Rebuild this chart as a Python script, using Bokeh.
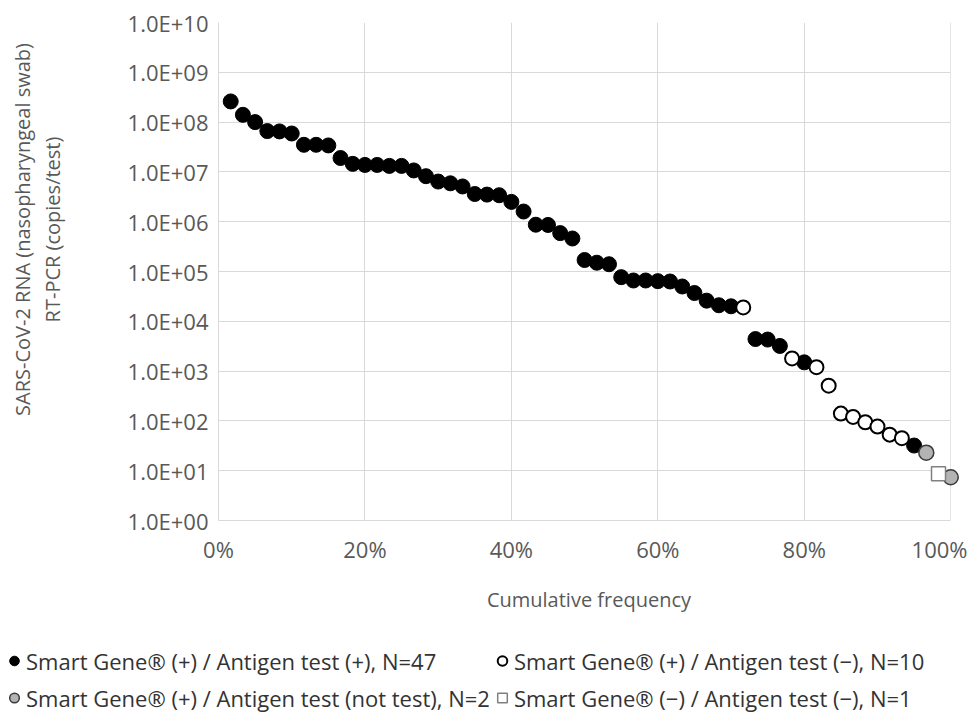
import math
from bokeh.plotting import figure
from bokeh.models import (ColumnDataSource, FixedTicker, CustomJSTickFormatter, Legend,
                          LegendItem, NumeralTickFormatter, Range1d, BoxAnnotation, Label)
from bokeh.layouts import row, column
from bokeh.embed import file_html
from bokeh.resources import INLINE

# SARS-CoV-2 RNA copies/test, sorted descending
copies = [2.6e8, 1.4e8, 1.0e8, 6.6e7, 6.5e7, 5.9e7, 3.5e7, 3.5e7, 3.4e7, 1.9e7,
          1.45e7, 1.38e7, 1.38e7, 1.32e7, 1.32e7, 1.07e7, 8.2e6, 6.4e6, 5.9e6, 5.1e6,
          3.6e6, 3.5e6, 3.4e6, 2.5e6, 1.6e6, 8.7e5, 8.6e5, 5.9e5, 4.6e5, 1.7e5,
          1.5e5, 1.4e5, 7.7e4, 6.6e4, 6.6e4, 6.4e4, 6.3e4, 5.0e4, 3.7e4, 2.6e4,
          2.1e4, 2.0e4, 1.9e4, 4.4e3, 4.3e3, 3.2e3, 1.8e3, 1.5e3, 1.2e3, 5.1e2,
          1.4e2, 1.2e2, 9.4e1, 7.7e1, 5.3e1, 4.5e1, 3.2e1, 2.3e1, 8.7, 7.4]

# group of each sample: A=SG(+)/Ag(+), B=SG(+)/Ag(-), C=SG(+)/Ag(not test), D=SG(-)/Ag(-)
groups = (["A"] * 42 + ["B"] + ["A"] * 3 + ["B"] + ["A"] + ["B"] * 8 +
          ["A"] + ["C"] + ["D"] + ["C"])

labels = {
    "A": "Smart Gene\u00ae (+) / Antigen test (+), N=47",
    "B": "Smart Gene\u00ae (+) / Antigen test (\u2212), N=10",
    "C": "Smart Gene\u00ae (+) / Antigen test (not test), N=2",
    "D": "Smart Gene\u00ae (\u2212) / Antigen test (\u2212), N=1",
}

y_title_1 = "SARS-CoV-2 RNA (nasopharyngeal swab)"
y_title_2 = "RT-PCR (copies/test)"
x_title = "Cumulative frequency"

n = len(copies)
cum_freq = [(i + 1) / n for i in range(n)]

x_ticks = [0, 0.2, 0.4, 0.6, 0.8, 1.0]
y_ticks = [10 ** k for k in range(0, 11)]

FONT = "Open Sans"
TXT = "#595959"
GRID = "#d9d9d9"

# sizes of the pieces of the page
LAB_W = 80          # strip holding the two-line y title
TOP, FRAME_H, BOT = 22, 498, 97
MAIN_H = TOP + FRAME_H + BOT
FRAME_W = 741
LEFT = 218 - LAB_W
RIGHT = 8
LEG_H = 95

styles = {
    "A": dict(marker="circle", fill_color="black", line_color="black", line_width=1, size=15),
    "B": dict(marker="circle", fill_color="white", line_color="black", line_width=2, size=14),
    "C": dict(marker="circle", fill_color="#b3b3b3", line_color="#3a3a3a", line_width=1.5, size=15),
    "D": dict(marker="square", fill_color="white", line_color="#808080", line_width=1.5, size=14),
}
order = ["A", "B", "C", "D"]
sources = {}
for g in order:
    xs = [x for x, gg in zip(cum_freq, groups) if gg == g]
    ys = [y for y, gg in zip(copies, groups) if gg == g]
    sources[g] = dict(x=xs, y=ys)

# ---------------- main chart ----------------
p = figure(frame_width=FRAME_W, frame_height=FRAME_H, y_axis_type="log",
           x_range=Range1d(0, 1.012), y_range=Range1d(1, 1e10),
           output_backend="svg", toolbar_location=None,
           min_border_left=LEFT, min_border_right=RIGHT, min_border_top=TOP,
           min_border_bottom=BOT)
p.outline_line_color = None

p.xgrid.ticker = FixedTicker(ticks=x_ticks, minor_ticks=[])
p.ygrid.ticker = FixedTicker(ticks=y_ticks, minor_ticks=[])
p.grid.grid_line_color = GRID
p.grid.grid_line_width = 1
# hide the grid beyond 100 %
p.add_layout(BoxAnnotation(left=1.0, fill_color="white", fill_alpha=1.0,
                           line_color=None, level="underlay"))

for g in order:
    p.scatter("x", "y", source=ColumnDataSource(sources[g]), **styles[g])

p.xaxis.ticker = FixedTicker(ticks=x_ticks, minor_ticks=[])
p.xaxis.formatter = NumeralTickFormatter(format="0%")
p.xaxis.bounds = (0, 1)
p.yaxis.ticker = FixedTicker(ticks=y_ticks, minor_ticks=[])
p.yaxis.formatter = CustomJSTickFormatter(code="""
const e = Math.round(Math.log10(tick));
return '1.0E+' + (e < 10 ? '0' : '') + e;
""")
for ax in [p.xaxis[0], p.yaxis[0]]:
    ax.axis_line_color = GRID
    ax.major_tick_line_color = None
    ax.minor_tick_line_color = None
    ax.major_tick_out = 0
    ax.major_tick_in = 0
    ax.major_label_text_font = FONT
    ax.major_label_text_font_size = "22px"
    ax.major_label_text_color = TXT
p.xaxis.major_label_standoff = 13
p.yaxis.major_label_standoff = 10
p.xaxis.axis_label = x_title
p.xaxis.axis_label_text_font = FONT
p.xaxis.axis_label_text_font_size = "20px"
p.xaxis.axis_label_text_font_style = "normal"
p.xaxis.axis_label_text_color = TXT
p.xaxis.axis_label_standoff = 19

# ---------------- y title strip ----------------
lab = figure(width=LAB_W, height=MAIN_H, x_range=Range1d(0, LAB_W), y_range=Range1d(0, FRAME_H),
             min_border_left=0, min_border_right=0, min_border_top=TOP, min_border_bottom=BOT,
             output_backend="svg", toolbar_location=None,
             x_axis_location=None, y_axis_location=None)
lab.outline_line_color = None
lab.xgrid.visible = False
lab.ygrid.visible = False
for txt, xc in [(y_title_1, 22), (y_title_2, 52)]:
    lab.add_layout(Label(x=xc, y=FRAME_H - (229 - TOP), text=txt, angle=math.pi / 2,
                         text_align="center", text_baseline="middle",
                         text_font=FONT, text_font_size="20px", text_color=TXT))

# ---------------- legend strip ----------------
LEG_W = LAB_W + LEFT + FRAME_W + RIGHT
leg = figure(width=LEG_W, height=LEG_H, x_range=Range1d(10, 11), y_range=Range1d(10, 11),
             min_border=0, output_backend="svg", toolbar_location=None,
             x_axis_location=None, y_axis_location=None)
leg.outline_line_color = None
leg.xgrid.visible = False
leg.ygrid.visible = False
# same data, kept out of this strip's view: only their legend swatches show
leg_r = {g: leg.scatter("x", "y", source=ColumnDataSource(sources[g]), **styles[g]) for g in order}
legend = Legend(items=[LegendItem(label=labels[g], renderers=[leg_r[g]]) for g in order],
                orientation="horizontal", ncols=2, location=(2, -4),
                padding=0, margin=0, spacing=0, glyph_width=24, glyph_height=37,
                label_standoff=0, border_line_color=None, background_fill_alpha=0,
                label_text_font=FONT, label_text_font_size="22px", label_text_color="#333333")
leg.add_layout(legend, "center")

layout = column(row(lab, p), leg)
open("out.html", "w").write(file_html(layout, INLINE))
